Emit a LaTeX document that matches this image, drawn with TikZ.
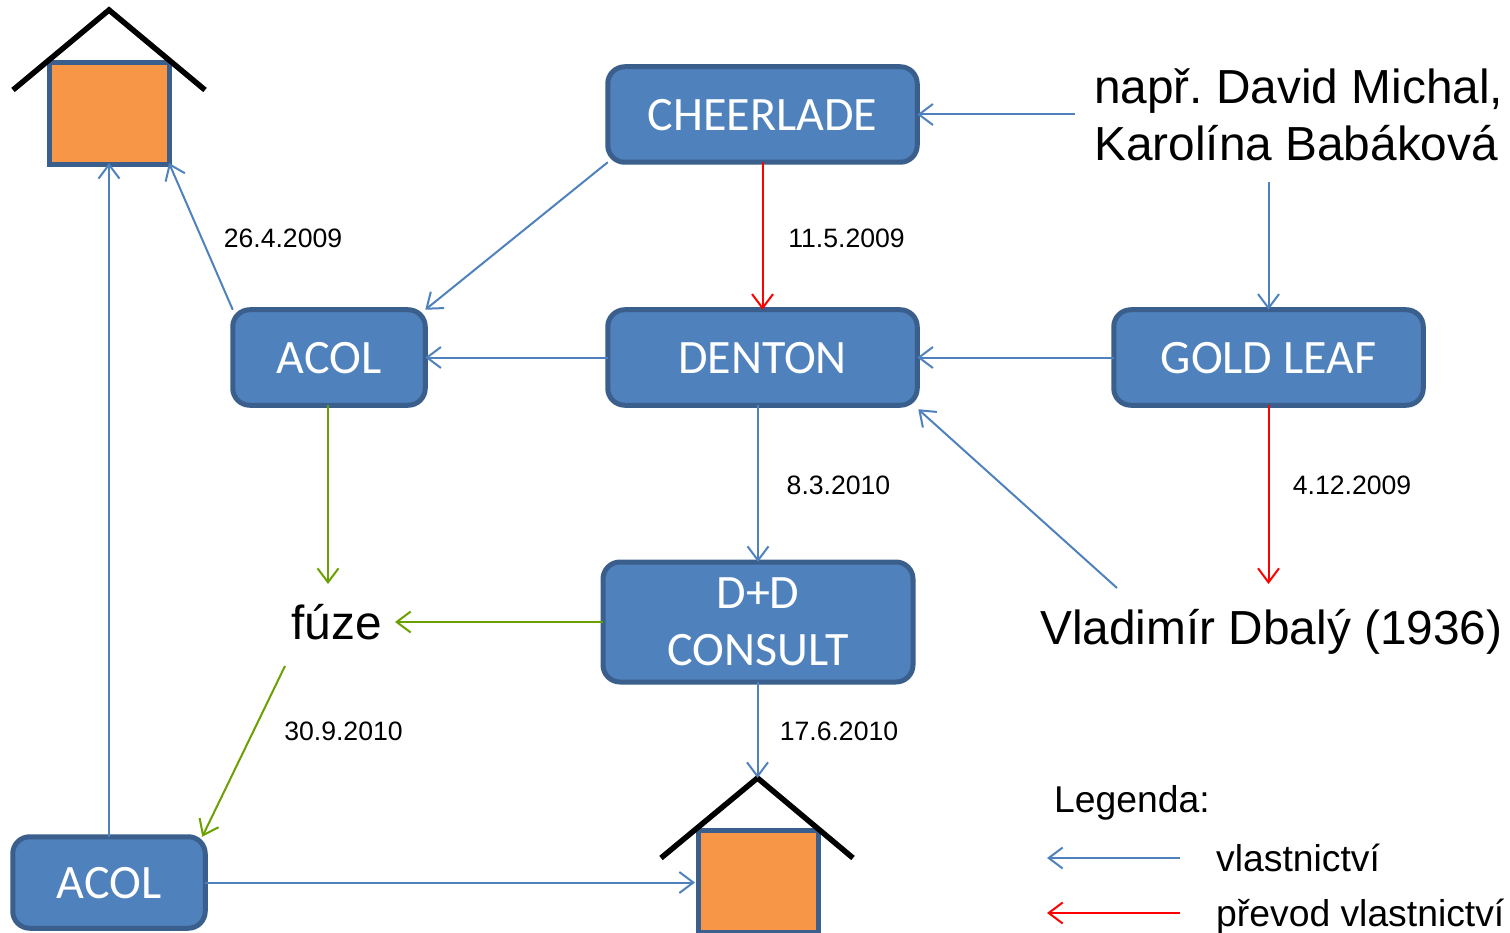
\documentclass[tikz,border=0pt]{standalone}
\usepackage{fontspec}
\setmainfont{Liberation Sans}
\newfontfamily\boxfont{Carlito}
\usetikzlibrary{arrows.meta}
\frenchspacing
\definecolor{boxfill}{HTML}{4F81BD}
\definecolor{boxedge}{HTML}{3B5F8C}
\definecolor{housefill}{HTML}{F79646}
\definecolor{arrblue}{HTML}{4F81BD}
\definecolor{arrgreen}{HTML}{6AA000}
\tikzset{
 x=1pt,y=-1pt,
 corpbox/.style={draw=boxedge,fill=boxfill,line width=5pt,rounded corners=17pt,inner sep=0pt,outer sep=0pt,
   align=center,text=white,font=\boxfont\fontsize{48}{57}\selectfont},
 oneline/.style={text height=32pt,text depth=0pt},
 wide/.style={minimum width=309.5pt,minimum height=95.5pt,oneline},
 narrow/.style={minimum width=192.5pt,minimum height=95.5pt,oneline},
 walls/.style={draw=boxedge,fill=housefill,line width=5pt,inner sep=0pt,outer sep=0pt},
 roof/.style={draw=black,line width=5.5pt,line join=miter},
 link/.style={line width=2pt,-{Straight Barb[length=14pt,width=21pt,line width=2pt]}},
 own/.style={link,draw=arrblue},
 transfer/.style={link,draw=red},
 merge/.style={link,draw=arrgreen},
 date/.style={font=\fontsize{26.6}{30}\selectfont,inner sep=0pt,text=black},
 big/.style={font=\fontsize{47.8}{57}\selectfont,inner sep=0pt,text=black},
 legend/.style={font=\fontsize{37.3}{42}\selectfont,inner sep=0pt,text=black,anchor=west},
}
\begin{document}
\begin{tikzpicture}
\useasboundingbox (0,0) rectangle (1510,933);
% houses
\node[walls,minimum width=120pt,minimum height=102pt] (sqa) at (109,114) {};
\coordinate (roofa) at (109,10);
\draw[roof] (13,90) -- (roofa) -- (205,90);
\node[walls,minimum width=120pt,minimum height=102pt] (sqb) at (758,881.5) {};
\coordinate (roofb) at (757.5,778);
\draw[roof] (661,858) -- (roofb) -- (853,858);
% boxes
\node[corpbox,wide] (cheer) at (762.5,114.5) {CHEERLADE};
\node[corpbox,narrow] (acola) at (329,357.5) {ACOL};
\node[corpbox,wide] (denton) at (762.5,357.5) {DENTON};
\node[corpbox,wide] (gold) at (1268.5,357.5) {GOLD LEAF};
\node[corpbox,minimum width=310pt,minimum height=120pt] (dd) at (758,622) {D+D\\CONSULT};
\node[corpbox,narrow,minimum height=91.5pt] (acolb) at (109,882.5) {ACOL};
% texts
\node[big,align=left,anchor=west] (person) at (1094,115) {např. David Michal,\\Karolína Babáková};
\node[big] (fuze) at (336.5,622) {fúze};
\node[big,anchor=west] (dbaly) at (1040,631.5) {Vladimír Dbalý (1936)};
\node[date] (da) at (283,238) {26.4.2009};
\node[date] (db) at (846.5,238) {11.5.2009};
\node[date] (dc) at (838.5,485) {8.3.2010};
\node[date] (dd2) at (1352,485) {4.12.2009};
\node[date] (de) at (343.5,731) {30.9.2010};
\node[date] (df) at (839,731) {17.6.2010};
\node[legend] (lega) at (1054,803) {Legenda:};
\node[legend] (legb) at (1216,858) {vlastnictví};
\node[legend] (legc) at (1216,917) {převod vlastnictví};
% free ends
\coordinate (pa) at (1075,114.5);
\coordinate (pb) at (1268.5,182);
\coordinate (gf) at (1268.5,584);
\coordinate (vd) at (1117,588);
\coordinate (af) at (328,584);
\coordinate (fe) at (395,622);
\coordinate (fs) at (285,666);
\coordinate (la) at (1180,858);
\coordinate (lb) at (1047,858);
\coordinate (lc) at (1180,913);
\coordinate (ld) at (1047,913);
% connectors
\draw[own] (pa) -- (cheer.east);
\draw[own] (pb) -- (gold.north);
\draw[own] (cheer.south west) -- (acola.north east);
\draw[transfer] (cheer.south) -- (denton.north);
\draw[own] (denton.west) -- (acola.east);
\draw[own] (gold.west) -- (denton.east);
\draw[own] (acola.north west) -- ([yshift=2pt]sqa.south east);
\draw[own] (acolb.north) -- ([yshift=2pt]sqa.south);
\draw[own] (dd.north |- denton.south) -- (dd.north);
\draw[transfer] (gold.south) -- (gf);
\draw[own] (vd) -- ([shift={(1,4)}]denton.south east);
\draw[merge] (af |- acola.south) -- (af);
\draw[merge] (dd.west) -- (fe);
\draw[merge] (fs) -- ([xshift=-3pt]acolb.north east);
\draw[own] (roofb |- dd.south) -- (roofb);
\draw[own] (acolb.east) -- ([xshift=-3pt]sqb.west |- acolb.east);
\draw[own] (la) -- (lb);
\draw[transfer] (lc) -- (ld);
\end{tikzpicture}
\end{document}
